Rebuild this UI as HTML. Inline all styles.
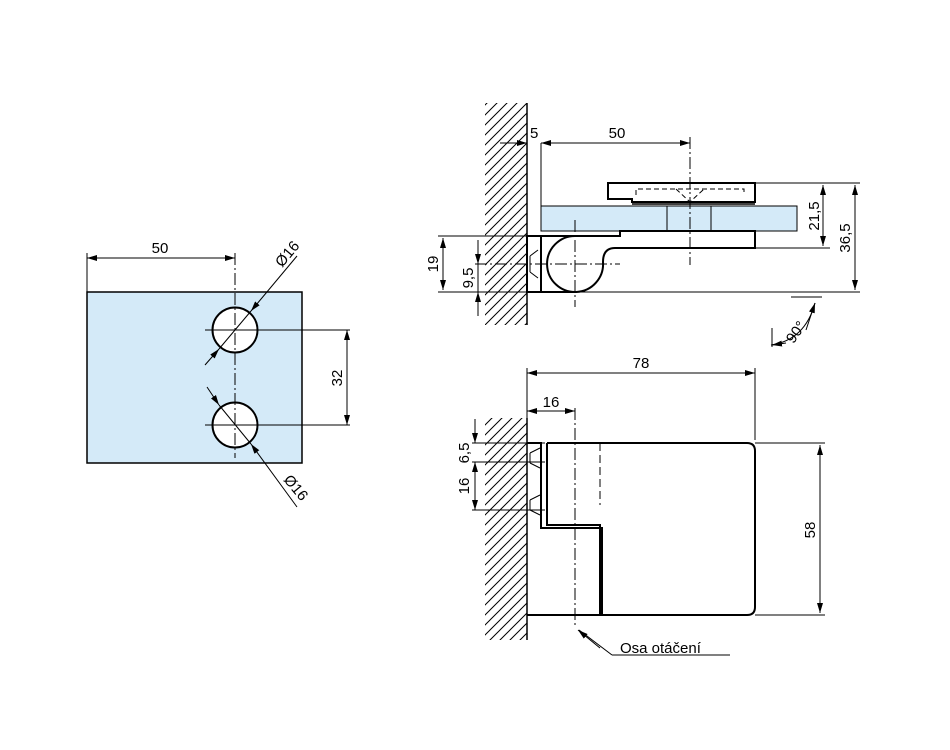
<!DOCTYPE html>
<html><head><meta charset="utf-8"><style>body{margin:0;background:#fff}svg{display:block}text{font-family:"Liberation Sans",sans-serif;font-size:15px;fill:#000}</style></head><body>
<svg width="950" height="750" viewBox="0 0 950 750" xmlns="http://www.w3.org/2000/svg">
<defs>
<marker id="a" viewBox="0 0 10 6" refX="10" refY="3" markerWidth="10" markerHeight="6" orient="auto-start-reverse" markerUnits="userSpaceOnUse"><path d="M0,0 L10,3 L0,6z" fill="#000"/></marker>
<pattern id="h" width="10" height="10" patternUnits="userSpaceOnUse"><path d="M-2,12 L12,-2 M-2,2 L2,-2 M8,12 L12,8" stroke="#000" stroke-width="1"/></pattern>
</defs>
<g stroke="#000" fill="none" stroke-width="1">
<!-- LEFT VIEW -->
<rect x="87" y="292" width="215" height="171" fill="#d4eaf8" stroke-width="1.5"/>
<circle cx="235" cy="330" r="22.5" fill="#fff" stroke-width="2"/>
<circle cx="235" cy="425" r="22.5" fill="#fff" stroke-width="2"/>
<line x1="235" y1="253" x2="235" y2="458" stroke-dasharray="12,3,2,3"/>
<line x1="205" y1="330" x2="350" y2="330"/>
<line x1="205" y1="425" x2="350" y2="425"/>
<line x1="87" y1="253" x2="87" y2="292"/>
<line x1="87" y1="258" x2="235" y2="258" marker-start="url(#a)" marker-end="url(#a)"/>
<line x1="347" y1="330" x2="347" y2="425" marker-start="url(#a)" marker-end="url(#a)"/>
<line x1="297" y1="256" x2="251" y2="311" marker-end="url(#a)"/>
<line x1="205" y1="365" x2="219" y2="349" marker-end="url(#a)"/>
<line x1="251" y1="311" x2="219" y2="349"/>
<line x1="207" y1="387" x2="219" y2="405" marker-end="url(#a)"/>
<line x1="297" y1="507" x2="251" y2="444" marker-end="url(#a)"/>
<line x1="219" y1="405" x2="251" y2="444"/>
<!-- TOP VIEW -->
<rect x="485" y="103" width="42" height="222" fill="url(#h)" stroke="none"/>
<line x1="527" y1="103" x2="527" y2="325" stroke-width="1.5"/>
<rect x="541" y="206" width="256" height="25" fill="#d4eaf8"/>
<line x1="667" y1="206" x2="667" y2="231"/><line x1="711" y1="206" x2="711" y2="231"/>
<path d="M608,183 H755 V202 H632 V199 H608 Z" stroke-width="2" fill="#fff"/>
<path d="M636,195 V189 H744 V195 M676,189 L690,202 L704,189" stroke-dasharray="5,3"/>
<line x1="632" y1="204" x2="755" y2="204" stroke-width="1.5"/>
<path d="M541,236 H620 V231 H755 V248 H615 Q603,248 603,262 A28,28 0 1 1 575,236" stroke-width="2" fill="#fff"/>
<rect x="527" y="236" width="14" height="56" stroke-width="2" fill="#fff"/>
<path d="M530,256 L538,250 M530,272 L538,278 M530,256 V272" />
<line x1="541" y1="292" x2="575" y2="292" stroke-width="2"/>
<line x1="541" y1="143" x2="541" y2="230"/>
<line x1="690" y1="137" x2="690" y2="265" stroke-dasharray="12,3,2,3"/>
<line x1="500" y1="143" x2="527" y2="143" marker-end="url(#a)"/>
<line x1="541" y1="143" x2="690" y2="143" marker-start="url(#a)" marker-end="url(#a)"/>
<line x1="575" y1="220" x2="575" y2="307" stroke-dasharray="12,3,2,3"/>
<line x1="475" y1="264" x2="620" y2="264" stroke-dasharray="12,3,2,3"/>
<line x1="755" y1="183" x2="860" y2="183"/>
<line x1="755" y1="248" x2="830" y2="248"/>
<line x1="823" y1="185" x2="823" y2="246" marker-start="url(#a)" marker-end="url(#a)"/>
<line x1="855" y1="185" x2="855" y2="290" marker-start="url(#a)" marker-end="url(#a)"/>
<line x1="438" y1="292" x2="860" y2="292"/>
<line x1="438" y1="236" x2="527" y2="236"/>
<line x1="443" y1="238" x2="443" y2="290" marker-start="url(#a)" marker-end="url(#a)"/>
<line x1="478" y1="240" x2="478" y2="264" marker-end="url(#a)"/>
<line x1="478" y1="316" x2="478" y2="292" marker-end="url(#a)"/>
<line x1="478" y1="264" x2="478" y2="292"/>
<path d="M772,347 V328 M822,297 H791 M771,345 Q805,340 815,303" />
<line x1="806" y1="330" x2="815" y2="303" marker-end="url(#a)"/>
<line x1="786" y1="343" x2="772" y2="345" marker-end="url(#a)"/>
<!-- BOTTOM VIEW -->
<rect x="485" y="418" width="42" height="222" fill="url(#h)" stroke="none"/>
<line x1="527" y1="418" x2="527" y2="640" stroke-width="1.5"/>
<path d="M547,443 H747 Q755,443 755,451 V607 Q755,615 747,615 H527" stroke-width="2"/>
<path d="M527,443 H541 V528 H602 V615" stroke-width="2"/>
<path d="M547,443 V525 H600 V615" stroke-width="2"/>
<path d="M530,453 L540,448 M530,463 L540,468 M530,500 L540,495 M530,510 L540,515 M530,453 V463 M530,500 V510"/>
<line x1="600" y1="443" x2="600" y2="505" stroke-dasharray="8,4"/>
<line x1="575" y1="408" x2="575" y2="628" stroke-dasharray="12,3,2,3"/>
<path d="M612,655 H730 M612,655 L579,630"/>
<line x1="600" y1="648" x2="578" y2="630" marker-end="url(#a)"/>
<line x1="527" y1="368" x2="527" y2="418"/>
<line x1="755" y1="368" x2="755" y2="440"/>
<line x1="527" y1="373" x2="755" y2="373" marker-start="url(#a)" marker-end="url(#a)"/>
<line x1="527" y1="411" x2="575" y2="411" marker-start="url(#a)" marker-end="url(#a)"/>
<line x1="755" y1="443" x2="825" y2="443"/>
<line x1="755" y1="615" x2="825" y2="615"/>
<line x1="820" y1="445" x2="820" y2="613" marker-start="url(#a)" marker-end="url(#a)"/>
<line x1="472" y1="443" x2="545" y2="443"/>
<line x1="472" y1="462" x2="545" y2="462"/>
<line x1="472" y1="510" x2="545" y2="510"/>
<line x1="475" y1="419" x2="475" y2="443" marker-end="url(#a)"/>
<line x1="475" y1="462" x2="475" y2="510" marker-start="url(#a)" marker-end="url(#a)"/>
</g>
<text x="160" y="253" text-anchor="middle">50</text>
<text transform="translate(282,268) rotate(-50)">Ø16</text>
<text transform="translate(283,480) rotate(50)">Ø16</text>
<text transform="translate(342,378) rotate(-90)" text-anchor="middle">32</text>
<text x="530" y="138">5</text>
<text x="617" y="138" text-anchor="middle">50</text>
<text transform="translate(819,216) rotate(-90)" text-anchor="middle">21,5</text>
<text transform="translate(850,238) rotate(-90)" text-anchor="middle">36,5</text>
<text transform="translate(438,264) rotate(-90)" text-anchor="middle">19</text>
<text transform="translate(473,278) rotate(-90)" text-anchor="middle">9,5</text>
<text transform="translate(800,335) rotate(-55)" text-anchor="middle">90°</text>
<text x="641" y="368" text-anchor="middle">78</text>
<text x="551" y="407" text-anchor="middle">16</text>
<text transform="translate(815,530) rotate(-90)" text-anchor="middle">58</text>
<text transform="translate(469,453) rotate(-90)" text-anchor="middle">6,5</text>
<text transform="translate(469,486) rotate(-90)" text-anchor="middle">16</text>
<text x="620" y="653">Osa otáčení</text>
</svg>
</body></html>
